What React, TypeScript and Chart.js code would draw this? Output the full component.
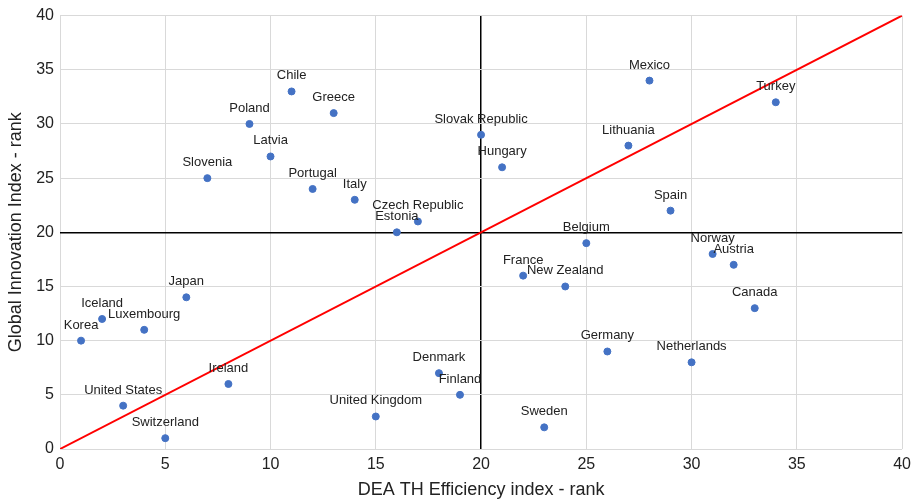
import React, { useEffect, useRef } from "react";
import { Chart, registerables } from "chart.js";

Chart.register(...registerables);

const countries = [
  "Korea", "Iceland", "Luxembourg", "Japan", "United States", "Switzerland", "Ireland",
  "Slovenia", "Poland", "Latvia", "Chile", "Greece", "Portugal", "Italy", "Czech Republic",
  "Estonia", "United Kingdom", "Denmark", "Finland", "Slovak Republic", "Hungary", "France",
  "New Zealand", "Belgium", "Sweden", "Germany", "Lithuania", "Mexico", "Spain",
  "Netherlands", "Norway", "Austria", "Canada", "Turkey",
];
const deaRank = [1, 2, 4, 6, 3, 5, 8, 7, 9, 10, 11, 13, 12, 14, 17, 16, 15, 18, 19, 20, 21, 22, 24, 25, 23, 26, 27, 28, 29, 30, 31, 32, 33, 34];
const giiRank = [10, 12, 11, 14, 4, 1, 6, 25, 30, 27, 33, 31, 24, 23, 21, 20, 3, 7, 5, 29, 26, 16, 15, 19, 2, 9, 28, 34, 22, 8, 18, 17, 13, 32];
const diagonal = [0, 40];
const xTitle = "DEA TH Efficiency index - rank";
const yTitle = "Global Innovation Index - rank";

const FONT = "'Liberation Sans', Arial, sans-serif";

const labelPlugin = {
  id: "pointLabels",
  afterDatasetsDraw(chart: any) {
    const meta = chart.getDatasetMeta(0);
    const ctx = chart.ctx;
    ctx.save();
    ctx.font = `13px ${FONT}`;
    ctx.fillStyle = "#222";
    ctx.textAlign = "center";
    ctx.textBaseline = "alphabetic";
    meta.data.forEach((el: any, i: number) => {
      ctx.fillText(countries[i], el.x, el.y - 12);
    });
    ctx.restore();
  },
};

export default function App() {
  const ref = useRef<HTMLCanvasElement>(null);
  useEffect(() => {
    if (!ref.current) return;
    const chart = new Chart(ref.current, {
      type: "scatter",
      data: {
        datasets: [
          {
            data: deaRank.map((x, i) => ({ x, y: giiRank[i] })),
            backgroundColor: "#4472C4",
            borderColor: "#4472C4",
            pointRadius: 3.5,
            pointHoverRadius: 3.5,
            order: 1,
          },
          {
            data: diagonal.map((v) => ({ x: v, y: v })),
            showLine: true,
            borderColor: "#ff0000",
            borderWidth: 2,
            pointRadius: 0,
            order: 2,
          },
        ],
      },
      options: {
        responsive: false,
        animation: false,
        events: [],
        layout: { padding: { top: 15, right: 14, left: 0, bottom: 0 } },
        plugins: { legend: { display: false }, tooltip: { enabled: false } },
        scales: {
          x: {
            type: "linear",
            min: 0,
            max: 40,
            ticks: { stepSize: 5, color: "#222", font: { size: 16, family: FONT }, padding: 6 },
            grid: {
              color: (c: any) => (c.tick && c.tick.value === 20 ? "#000" : "#d9d9d9"),
              lineWidth: (c: any) => (c.tick && c.tick.value === 20 ? 1.5 : 1),
              drawTicks: false,
            },
            border: { display: false },
            title: { display: true, text: xTitle, color: "#222", font: { size: 18, family: FONT }, padding: { top: 0, bottom: 0 } },
            afterFit: (s: any) => { s.height = 52; },
          },
          y: {
            type: "linear",
            min: 0,
            max: 40,
            ticks: { stepSize: 5, color: "#222", font: { size: 16, family: FONT }, padding: 6 },
            grid: {
              color: (c: any) => (c.tick && c.tick.value === 20 ? "#000" : "#d9d9d9"),
              lineWidth: (c: any) => (c.tick && c.tick.value === 20 ? 1.5 : 1),
              drawTicks: false,
            },
            border: { display: false },
            title: { display: true, text: yTitle, color: "#222", font: { size: 18, family: FONT }, padding: { top: 5, bottom: 0 } },
            afterFit: (s: any) => { s.width = 60; },
          },
        },
      },
      plugins: [labelPlugin],
    });
    return () => chart.destroy();
  }, []);
  return (
    <div style={{ position: "absolute", left: 0, top: 0, width: 917, height: 501, background: "#fff" }}>
      <canvas ref={ref} width={917} height={501} style={{ display: "block" }} />
    </div>
  );
}
